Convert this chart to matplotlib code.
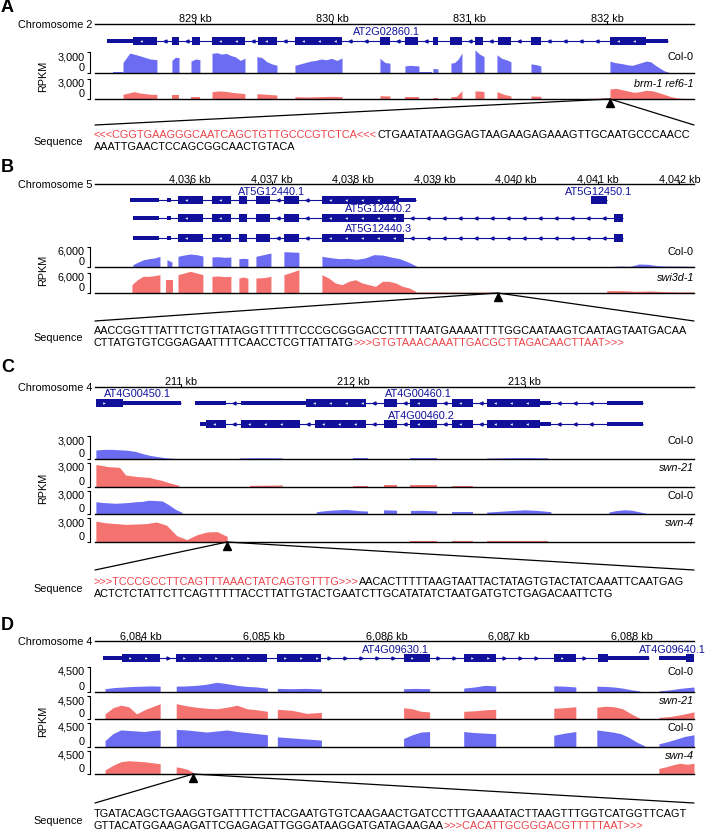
import re
import numpy as np
import matplotlib
matplotlib.use("Agg")
import matplotlib.pyplot as plt
from matplotlib.patches import Rectangle, ConnectionPatch
from matplotlib.transforms import offset_copy

plt.rcParams['font.family'] = ['Liberation Sans', 'DejaVu Sans']
plt.rcParams['font.size'] = 7.8

W, H = 708, 831
BLUE = '#6b6cf2'
RED = '#f4726f'
NAVY = '#10109a'
INS_RED = '#ec4349'

# ---------------- panel A data ----------------
A_chrom = "Chromosome 2"
A_xlim = (828.272, 832.634)
A_ticks = [829, 830, 831, 832]
A_scale = 3000
A_utr = [(828.359, 828.548), (832.285, 832.445)]
A_exons = [(828.548, 828.723), (828.832, 828.883), (828.978, 829.036), (829.124, 829.364),
           (829.459, 829.597), (829.728, 830.071), (830.347, 830.420), (830.529, 830.624),
           (830.733, 830.770), (830.857, 830.945), (831.039, 831.098), (831.207, 831.301),
           (831.447, 831.520), (832.023, 832.285)]
A_genes = [("AT2G02860.1", A_utr, A_exons, '-')]
A_samples = ["Col-0", "brm-1 ref6-1"]
A_col0 = [(828.403, 828.476, [100, 100]),
          (828.476, 828.723, [1500, 2850, 2600, 2300, 2000, 1900]),
          (828.832, 828.884, [1800, 2250, 2200]),
          (828.971, 829.036, [1700, 2000, 1900]),
          (829.124, 829.364, [2800, 2900, 2700, 2800, 2500, 2300, 1800, 2100]),
          (829.451, 829.597, [2350, 2200, 1600, 1300, 1100]),
          (829.728, 830.071, [1100, 1300, 1500, 1700, 1800, 2000, 1900, 2100, 1800, 2150]),
          (830.347, 830.420, [2100, 1500, 1400]),
          (830.529, 830.631, [1000, 1100, 1050, 1000]),
          (830.631, 830.726, [150, 150]),
          (830.733, 830.769, [650, 600]),
          (830.864, 830.944, [1400, 1500, 2000, 2850]),
          (831.039, 831.105, [3300, 2700, 2350]),
          (831.199, 831.301, [2600, 2100, 1900, 1600]),
          (831.447, 831.519, [1300, 1200, 1000]),
          (832.022, 832.451, [1700, 1500, 1400, 1300, 1150, 1100, 1300, 1500, 1700, 1600, 1100, 700, 300, 100])]
A_mut = [(828.403, 828.476, [50, 50]),
         (828.476, 828.723, [700, 900, 1100, 900, 800, 700, 700]),
         (828.832, 828.884, [600, 600]),
         (828.971, 829.036, [350, 350]),
         (829.124, 829.364, [1100, 1200, 1150, 1000, 900, 800]),
         (829.451, 829.597, [800, 700, 600]),
         (829.728, 830.071, [350, 300, 350, 400, 350]),
         (830.347, 830.420, [500, 450]),
         (830.529, 830.631, [300, 300]),
         (830.733, 830.769, [200, 200]),
         (830.864, 830.944, [350, 400, 1250]),
         (831.039, 831.105, [1200, 1200, 1100]),
         (831.199, 831.301, [1100, 700, 450]),
         (831.447, 831.519, [450, 400]),
         (831.854, 832.000, [100, 150]),
         (832.022, 832.590, [1500, 1600, 1400, 1200, 1000, 1100, 1300, 1250, 1000, 700, 400, 200, 100, 80])]
A_insert = 832.022
A_seq = ["<<<CGGTGAAGGGCAATCAGCTGTTGCCCGTCTCA<<<CTGAATATAAGGAGTAAGAAGAGAAAGTTGCAATGCCCAACC",
         "AAATTGAACTCCAGCGGCAACTGTACA"]

# ---------------- panel B data ----------------
B_chrom = "Chromosome 5"
B_xlim = (4034.836, 4042.18)
B_ticks = [4036, 4037, 4038, 4039, 4040, 4041, 4042]
B_scale = 6000
B_exons_core = [(4035.853, 4036.159), (4036.270, 4036.502), (4036.600, 4036.699),
                (4036.809, 4036.980), (4037.152, 4037.336)]
B1_utr = [(4035.265, 4035.620), (4035.718, 4035.767), (4038.561, 4038.770)]
B1_exons = B_exons_core + [(4037.618, 4038.561)]
B2_utr = [(4035.301, 4035.620), (4035.718, 4035.767)]
B2_exons = B_exons_core + [(4037.618, 4038.623), (4041.196, 4041.306)]
B4_exons = [(4040.914, 4041.110)]
B_genes = [("AT5G12440.1", B1_utr, B1_exons, '-'),
           ("AT5G12440.2", B2_utr, B2_exons, '-'),
           ("AT5G12440.3", B2_utr, B2_exons, '-'),
           ("AT5G12450.1", [], B4_exons, '+')]
B_samples = ["Col-0", "swi3d-1"]
B_col0 = [(4035.301, 4035.632, [700, 1500, 2200, 2500, 2700, 3200]),
          (4035.718, 4035.779, [2200, 1500]),
          (4035.853, 4036.159, [3200, 3600, 3900, 3700, 3300]),
          (4036.270, 4036.502, [3000, 3100, 2900, 3000]),
          (4036.600, 4036.711, [2500, 2600, 2500]),
          (4036.809, 4036.993, [3200, 3700, 4200]),
          (4037.152, 4037.336, [4600, 4500, 4400]),
          (4037.618, 4038.782, [3200, 2800, 2500, 2600, 2300, 2700, 3700, 3600, 3000, 2500, 1500, 200]),
          (4041.172, 4042.176, [150, 300, 200, 900, 800, 400, 300, 300, 250, 200])]
B_mut = [(4035.289, 4035.632, [2500, 4000, 5000, 5000, 5200, 5500]),
         (4035.706, 4035.792, [4000, 4000]),
         (4035.853, 4036.159, [5500, 6000, 6500, 6000, 5500]),
         (4036.270, 4036.502, [5000, 5100, 4900, 5000]),
         (4036.600, 4036.711, [4500, 4800, 4400]),
         (4036.809, 4036.993, [4500, 4600, 5000]),
         (4037.152, 4037.336, [5500, 6200, 7000]),
         (4037.618, 4038.770, [5500, 4500, 3000, 2500, 3500, 4000, 3000, 2500, 2000, 3500, 3500, 3000, 2000, 1500, 500]),
         (4038.770, 4039.725, [300, 300, 250, 300]),
         (4041.110, 4042.176, [700, 700, 500, 600, 400, 300, 300])]
B_insert = 4039.775
B_seq = ["AACCGGTTTATTTCTGTTATAGGTTTTTTCCCGCGGGACCTTTTTAATGAAAATTTTGGCAATAAGTCAATAGTAATGACAA",
         "CTTATGTGTCGGAGAATTTTCAACCTCGTTATTATG>>>GTGTAAACAAATTGACGCTTAGACAACTTAAT>>>"]

# ---------------- panel C data ----------------
C_chrom = "Chromosome 4"
C_xlim = (210.499, 213.985)
C_ticks = [211, 212, 213]
C_scale = 3000
C1_exons = [(210.504, 210.662)]
C1_utr = [(210.662, 211.000)]
C_exons_core = [(212.178, 212.254), (212.335, 212.487), (212.574, 212.697), (212.778, 213.087)]
C2_utr = [(211.082, 211.262), (211.350, 211.729), (213.087, 213.152), (213.478, 213.688)]
C2_exons = [(211.729, 212.079)] + C_exons_core
C3_utr = [(211.111, 211.146), (213.087, 213.152), (213.478, 213.688)]
C3_exons = [(211.146, 211.262), (211.350, 211.694), (211.781, 212.079)] + C_exons_core
C_genes = [("AT4G00450.1", C1_utr, C1_exons, '+'),
           ("AT4G00460.1", C2_utr, C2_exons, '-'),
           ("AT4G00460.2", C3_utr, C3_exons, '-')]
C_samples = ["Col-0", "swn-21", "Col-0", "swn-4"]
C_col0_a = [(210.504, 210.959, [1170, 1250, 1260, 1200, 1150, 1000, 700, 450, 300, 150, 90]),
            (211.338, 211.589, [150, 170, 150]),
            (212.003, 212.085, [90, 90]),
            (212.335, 212.487, [120, 120]),
            (212.778, 213.134, [120, 170, 200, 150])]
C_mut_a = [(210.504, 210.988, [2800, 2700, 2550, 2500, 2450, 1500, 1400, 1300, 1250, 1200, 1000, 850, 600, 400, 200]),
           (211.397, 211.589, [200, 250]),
           (212.003, 212.085, [150, 150]),
           (212.178, 212.254, [200, 200]),
           (212.335, 212.487, [200, 200]),
           (212.574, 212.697, [150, 150])]
C_col0_b = [(210.504, 211.006, [1600, 1500, 1450, 1400, 1450, 1500, 1600, 1650, 1800, 1750, 1700, 1200, 600, 200]),
            (211.006, 211.688, [60, 60]),
            (211.787, 212.085, [300, 450, 550, 600, 450, 380]),
            (212.178, 212.254, [550, 500]),
            (212.335, 212.487, [460, 480, 400]),
            (212.574, 212.697, [200, 200]),
            (212.778, 213.152, [250, 350, 460, 550, 460, 300]),
            (213.490, 213.706, [250, 450, 550, 500, 300, 100])]
C_mut_b = [(210.504, 211.268, [2600, 2400, 2300, 2200, 2250, 2300, 2500, 2100, 800, 300, 900, 1250, 1300, 700]),
           (212.335, 212.487, [100, 100]),
           (212.574, 212.697, [100, 100]),
           (212.778, 213.134, [120, 120])]
C_insert = 211.268
C_seq = [">>>TCCCGCCTTCAGTTTAAACTATCAGTGTTTG>>>AACACTTTTTAAGTAATTACTATAGTGTACTATCAAATTCAATGAG",
         "ACTCTCTATTCTTCAGTTTTTACCTTATTGTACTGAATCTTGCATATATCTAATGATGTCTGAGACAATTCTG"]

# ---------------- panel D data ----------------
D_chrom = "Chromosome 4"
D_xlim = (6083.624, 6088.506)
D_ticks = [6084, 6085, 6086, 6087, 6088]
D_scale = 4500
D1_utr = [(6083.690, 6083.845), (6087.804, 6088.139)]
D1_exons = [(6083.845, 6084.155), (6084.286, 6085.029), (6085.110, 6085.469), (6086.139, 6086.351),
            (6086.629, 6086.890), (6087.363, 6087.543), (6087.722, 6087.804)]
D2_utr = [(6088.220, 6088.441)]
D2_exons = [(6088.441, 6088.530)]
D_genes = [("AT4G09630.1", D1_utr, D1_exons, '+'),
           ("AT4G09640.1", D2_utr, D2_exons, '+')]
D_samples = ["Col-0", "swn-21", "Col-0", "swn-4"]
D_col0_a = [(6083.706, 6084.155, [600, 800, 900, 1000, 1050, 1100, 1050]),
            (6084.286, 6085.029, [1050, 1100, 1200, 1400, 1750, 1500, 1200, 1000, 900, 650]),
            (6085.110, 6085.469, [650, 600, 650, 550]),
            (6086.139, 6086.351, [600, 650, 600]),
            (6086.629, 6086.890, [700, 900, 1200, 1100]),
            (6087.363, 6087.543, [1100, 1050, 900]),
            (6087.714, 6088.065, [1050, 1000, 900, 700, 400, 200]),
            (6088.220, 6088.506, [200, 400, 700, 900])]
D_mut_a = [(6083.706, 6084.155, [1000, 2200, 2700, 2400, 1000, 1800, 2400, 3000]),
           (6084.286, 6085.029, [3000, 2600, 2300, 2100, 2000, 2300, 2700, 2000, 1800, 1500]),
           (6085.110, 6085.469, [1900, 1700, 1100, 1300]),
           (6086.139, 6086.351, [2200, 2000, 1500, 1400]),
           (6086.629, 6086.890, [1500, 1600, 1800, 1900]),
           (6087.363, 6087.543, [2100, 2200, 2400]),
           (6087.714, 6088.065, [2300, 2500, 2400, 2000, 1000, 150]),
           (6088.220, 6088.506, [300, 500, 900, 1400])]
D_col0_b = [(6083.706, 6084.155, [1200, 2500, 3200, 3100, 3000, 2900, 3100, 3200]),
            (6084.286, 6085.029, [3300, 3200, 3000, 2800, 3000, 3200, 2900, 2700, 2500, 2300]),
            (6085.110, 6085.469, [1900, 1700, 1500, 1300]),
            (6086.139, 6086.351, [1600, 2300, 2800, 2900]),
            (6086.629, 6086.890, [2900, 2700, 2600, 2500]),
            (6087.363, 6087.543, [2200, 2600, 2900]),
            (6087.714, 6088.106, [3200, 3000, 2800, 2500, 1800, 900, 200]),
            (6088.220, 6088.506, [600, 1000, 1500, 2000, 2300])]
D_mut_b = [(6083.706, 6084.155, [800, 1700, 2400, 2600, 2500, 2400, 2200, 2000]),
           (6084.286, 6084.424, [1400, 1200, 900, 300]),
           (6088.220, 6088.506, [1100, 1400, 1800, 2100, 1900, 2100])]
D_insert = 6084.424
D_seq = ["TGATACAGCTGAAGGTGATTTTCTTACGAATGTGTCAAGAACTGATCCTTTGAAAATACTTAAGTTTGGTCATGGTTCAGT",
         "GTTACATGGAAGAGATTCGAGAGATTGGGATAAGGATGATAGAAGAA>>>CACATTGCGGGACGTTTTTAAT>>>"]

# ---------------- layout (figure pixels, y from top) ----------------
panels = [
    dict(letter='A', chrom=A_chrom, xlim=A_xlim, ticks=A_ticks, scale=A_scale, genes=A_genes,
         samples=A_samples, cov=[A_col0, A_mut], insert=A_insert, seq=A_seq,
         letter_y=7, ruler_y=24, gene_box=(28, 50), rows=[41],
         labels=[(830.398, 32, 'center')],
         tracks=[(52, 73), (79, 99)], rpkm_y=76, seq_top=125, seq_y=135),
    dict(letter='B', chrom=B_chrom, xlim=B_xlim, ticks=B_ticks, scale=B_scale, genes=B_genes,
         samples=B_samples, cov=[B_col0, B_mut], insert=B_insert, seq=B_seq,
         letter_y=167, ruler_y=184, gene_box=(187, 244), rows=[200, 218, 238, 200],
         labels=[(4037.005, 192, 'center'), (4038.721, 209, 'right'), (4038.721, 229, 'right'),
                 (4041.012, 192, 'center')],
         tracks=[(247, 267), (273, 293)], rpkm_y=270, seq_top=321, seq_y=331),
    dict(letter='C', chrom=C_chrom, xlim=C_xlim, ticks=C_ticks, scale=C_scale, genes=C_genes,
         samples=C_samples, cov=[C_col0_a, C_mut_a, C_col0_b, C_mut_b], insert=C_insert, seq=C_seq,
         letter_y=367, ruler_y=387, gene_box=(390, 432), rows=[403, 403, 424],
         labels=[(210.551, 394, 'left'), (212.382, 394, 'center'), (212.399, 416, 'center')],
         tracks=[(436, 459), (463, 487), (491, 514), (518, 542)], rpkm_y=488, seq_top=570, seq_y=582),
    dict(letter='D', chrom=D_chrom, xlim=D_xlim, ticks=D_ticks, scale=D_scale, genes=D_genes,
         samples=D_samples, cov=[D_col0_a, D_mut_a, D_col0_b, D_mut_b], insert=D_insert, seq=D_seq,
         letter_y=625, ruler_y=641, gene_box=(644, 664), rows=[658, 658],
         labels=[(6086.073, 650, 'center'), (6088.604, 650, 'right')],
         tracks=[(667, 692), (696, 719), (723, 747), (751, 774)], rpkm_y=721, seq_top=803, seq_y=814),
]

X0, X1 = 95, 694

fig = plt.figure(figsize=(W / 100, H / 100), dpi=100)
# overlay for free text (letters, sequences)
over = fig.add_axes([0, 0, 1, 1])
over.axis('off')
over.set_xlim(0, W)
over.set_ylim(H, 0)


def px_axes(x0, y0, x1, y1):
    return fig.add_axes([x0 / W, 1 - y1 / H, (x1 - x0) / W, (y1 - y0) / H])


def draw_transcript(ax, y, utrs, exons, strand, xlim):
    parts = sorted(utrs + exons)
    ax.plot([parts[0][0], parts[-1][1]], [y, y], color=NAVY, lw=0.8, solid_capstyle='butt')
    for s, e in utrs:
        ax.add_patch(Rectangle((s, y - 2.2), e - s, 4.4, color=NAVY, lw=0))
    for s, e in exons:
        ax.add_patch(Rectangle((s, y - 4.2), e - s, 8.4, color=NAVY, lw=0))
    step = (xlim[1] - xlim[0]) * 16 / (X1 - X0)
    m = '<' if strand == '-' else '>'
    for (a0, a1), (b0, b1) in zip(parts[:-1], parts[1:]):
        if b0 - a1 > step * 0.8:
            xs = np.arange(a1 + step / 2, b0 - step / 4, step)
            ax.plot(xs, np.full(len(xs), y), ls='none', marker=m, ms=2.2, color=NAVY)
    for s, e in exons:
        if e - s > step:
            xs = np.arange(s + step / 2, e - step / 4, step)
            ax.plot(xs, np.full(len(xs), y), ls='none', marker=m, ms=1.8, color='white', mew=0)


def draw_cov(ax, segs, color):
    for s, e, vals in segs:
        xs = np.linspace(s, e, len(vals))
        ax.fill_between(np.r_[s, xs, e], np.r_[0, vals, 0], color=color, lw=0, clip_on=False)


for p in panels:
    xlim = p['xlim']
    over.text(1, p['letter_y'], p['letter'], fontsize=13, fontweight='bold', va='center', ha='left')

    # ruler
    rax = px_axes(X0, p['ruler_y'], X1, p['ruler_y'] + 3)
    rax.set_xlim(xlim)
    rax.set_facecolor('none')
    for side in ['left', 'right', 'bottom']:
        rax.spines[side].set_visible(False)
    rax.spines['top'].set_linewidth(1.0)
    rax.xaxis.tick_top()
    rax.set_xticks(p['ticks'])
    rax.set_xticklabels([f'{t:,} kb' for t in p['ticks']])
    rax.tick_params(axis='x', length=2.2, width=0.8, pad=-2.4, labelsize=7.8)
    rax.set_yticks([])
    over.text(92, p['ruler_y'] + 1, p['chrom'], ha='right', va='center')

    # genes
    g0, g1 = p['gene_box']
    gax = px_axes(X0, g0, X1, g1)
    gax.set_xlim(xlim)
    gax.set_ylim(g1, g0)
    gax.axis('off')
    for (name, utrs, exons, strand), row, (lx, ly, ha) in zip(p['genes'], p['rows'], p['labels']):
        draw_transcript(gax, row, utrs, exons, strand, xlim)
        gax.text(lx, ly, name, color=NAVY, ha=ha, va='center', clip_on=False)

    # coverage tracks
    scale = p['scale']
    last = None
    for (t0, t1), segs, sample in zip(p['tracks'], p['cov'], p['samples']):
        ax = px_axes(X0, t0, X1, t1)
        ax.set_xlim(xlim)
        ax.set_ylim(0, scale)
        ax.set_facecolor('none')
        ctrl = sample == 'Col-0'
        draw_cov(ax, segs, BLUE if ctrl else RED)
        for side in ['top', 'right']:
            ax.spines[side].set_visible(False)
        ax.spines['bottom'].set_linewidth(1.0)
        ax.spines['left'].set_position(('outward', 3.6))
        ax.spines['left'].set_bounds(0, scale)
        ax.spines['left'].set_linewidth(0.8)
        ax.set_xticks([])
        ax.set_yticks([0, scale])
        ax.set_yticklabels(['0', f'{scale:,}'])
        ax.tick_params(axis='y', length=2.2, width=0.8, pad=1.5, labelsize=7.8)
        labs = ax.get_yticklabels()
        labs[0].set_va('bottom')
        labs[1].set_va('top')
        ax.annotate(sample, xy=(1, 1), xycoords='axes fraction', xytext=(0, -3.8),
                    textcoords='offset points', ha='right', va='center',
                    fontstyle='normal' if ctrl else 'italic')
        last = ax

    over.text(43, p['rpkm_y'], 'RPKM', rotation=90, ha='center', va='center')

    # insertion site and zoom lines
    last.plot(p['insert'], 0, marker='^', ms=5.5, color='k', clip_on=False,
              transform=offset_copy(last.transData, fig=fig, y=-2.6, units='points'))
    for xb in [X0, X1]:
        con = ConnectionPatch(xyA=(p['insert'], 0), coordsA=last.transData,
                              xyB=(xb, p['seq_top']), coordsB=over.transData,
                              color='k', lw=0.9)
        fig.add_artist(con)

    # sequence
    for i, line in enumerate(p['seq']):
        y = p['seq_y'] + 12 * i
        pieces = [s for s in re.split(r'(<<<.*?<<<|>>>.*?>>>)', line) if s]
        prev = None
        for s in pieces:
            col = INS_RED if s[:3] in ('<<<', '>>>') else 'black'
            if prev is None:
                prev = over.text(94, y, s, color=col, ha='left', va='center')
            else:
                prev = over.annotate(s, xy=(1, 0.5), xycoords=prev, ha='left', va='center', color=col)
    over.text(83, p['seq_y'] + 7, 'Sequence', ha='right', va='center')

fig.savefig('out.png', dpi=100)
